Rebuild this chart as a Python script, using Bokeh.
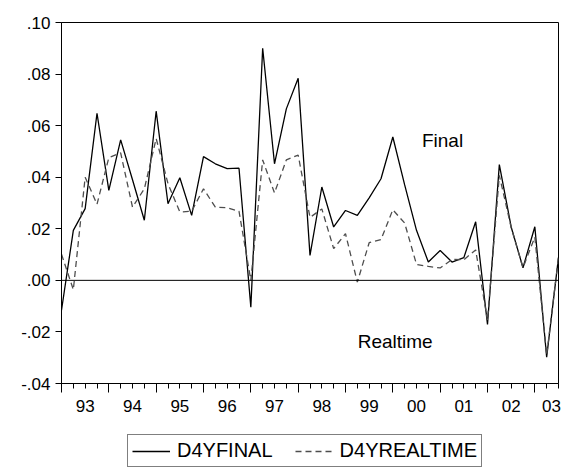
from bokeh.plotting import figure
from bokeh.layouts import column
from bokeh.models import (LinearAxis, FixedTicker, Span, Label, Legend, LegendItem,
                          Range1d, ColumnDataSource, CustomJSTickFormatter)
from bokeh.embed import file_html
from bokeh.resources import INLINE

# Quarterly observations 1993Q1 .. 2003Q3
start_year = 1993
n_obs = 43
d4yfinal = [-0.0116, 0.0194, 0.0278, 0.0648, 0.0349, 0.0545, 0.0390, 0.0233, 0.0656, 0.0297,
            0.0398, 0.0252, 0.0480, 0.0452, 0.0433, 0.0435, -0.0104, 0.0900, 0.0452, 0.0665,
            0.0784, 0.0097, 0.0362, 0.0207, 0.0271, 0.0252, 0.0320, 0.0394, 0.0556, 0.0370,
            0.0194, 0.0071, 0.0116, 0.0071, 0.0088, 0.0227, -0.0171, 0.0449, 0.0207, 0.0049,
            0.0208, -0.0298, 0.0089]
d4yrealtime = [0.0101, -0.0036, 0.0400, 0.0295, 0.0476, 0.0494, 0.0284, 0.0355, 0.0550, 0.0375,
               0.0265, 0.0268, 0.0355, 0.0284, 0.0282, 0.0268, 0.0000, 0.0467, 0.0339, 0.0467,
               0.0486, 0.0244, 0.0277, 0.0123, 0.0181, -0.0007, 0.0146, 0.0158, 0.0274, 0.0222,
               0.0062, 0.0054, 0.0048, 0.0081, 0.0080, 0.0118, -0.0155, 0.0407, 0.0205, 0.0049,
               0.0168, -0.0290, 0.0089]
y_ticks = [-0.04, -0.02, 0.00, 0.02, 0.04, 0.06, 0.08, 0.10]
year_labels = ["93", "94", "95", "96", "97", "98", "99", "00", "01", "02", "03"]
series_names = ["D4YFINAL", "D4YREALTIME"]
annotations = [("Final", 32.2, 0.0543), ("Realtime", 28.2, -0.0236)]

quarter_idx = list(range(n_obs))
year_bounds = [4 * k for k in range(len(year_labels))]
year_mids = [4 * k + 2 for k in range(len(year_labels) - 1)] + [41.4]

src = ColumnDataSource(dict(x=quarter_idx, final=d4yfinal, real=d4yrealtime))

FONT = "Liberation Sans"
FINAL_STYLE = dict(line_color="black", line_width=1.3)
REAL_STYLE = dict(line_color="#4d4d4d", line_width=1.3, line_dash="6 4")

# ---------------- main chart ----------------
p = figure(width=569, height=430, output_backend="svg", toolbar_location=None,
           x_range=Range1d(0, n_obs - 1), y_range=Range1d(-0.04, 0.10),
           x_axis_location=None, y_axis_location=None,
           min_border_left=61, min_border_right=11, min_border_top=22, min_border_bottom=47)
p.xgrid.visible = False
p.ygrid.visible = False
p.outline_line_color = "black"
p.outline_line_width = 1
p.background_fill_color = "white"
p.border_fill_color = "white"

yax = LinearAxis(ticker=FixedTicker(ticks=y_ticks),
                 formatter=CustomJSTickFormatter(code="""
                    const s = tick.toFixed(2);
                    return s.replace('0.', '.');
                 """))
yax.major_tick_out = 6
yax.major_tick_in = 0
yax.minor_tick_line_color = None
yax.major_label_standoff = 5
yax.major_label_text_font = FONT
yax.major_label_text_font_size = "17px"
yax.major_label_text_color = "black"
yax.axis_line_color = "black"
yax.major_tick_line_color = "black"
p.add_layout(yax, "left")

# x axis: long ticks at year boundaries, short ticks each quarter
xax_t = LinearAxis(ticker=FixedTicker(ticks=year_bounds, minor_ticks=quarter_idx),
                   formatter=CustomJSTickFormatter(code="return ' ';"))
xax_t.major_tick_out = 9
xax_t.major_tick_in = 0
xax_t.minor_tick_out = 5
xax_t.minor_tick_in = 0
xax_t.major_label_text_font_size = "1px"
xax_t.major_label_standoff = 0
xax_t.axis_line_color = "black"
xax_t.major_tick_line_color = "black"
xax_t.minor_tick_line_color = "black"
p.add_layout(xax_t, "below")

# x axis labels centred on each year
xax_l = LinearAxis(ticker=FixedTicker(ticks=year_mids),
                   formatter=CustomJSTickFormatter(args=dict(labels=year_labels),
                                                   code="return labels[Math.floor(tick / 4)];"))
xax_l.axis_line_color = None
xax_l.major_tick_line_color = None
xax_l.minor_tick_line_color = None
xax_l.major_tick_out = 0
xax_l.major_tick_in = 0
xax_l.major_label_standoff = 3
xax_l.major_label_text_font = FONT
xax_l.major_label_text_font_size = "17px"
xax_l.major_label_text_color = "black"
p.add_layout(xax_l, "below")

p.add_layout(Span(location=0, dimension="width", line_color="black", line_width=1))

p.line("x", "final", source=src, **FINAL_STYLE)
p.line("x", "real", source=src, **REAL_STYLE)

for txt, xx, yy in annotations:
    p.add_layout(Label(x=xx, y=yy, text=txt, text_font=FONT, text_font_size="19px",
                       text_color="black", text_align="center", text_baseline="middle"))

# ---------------- legend strip ----------------
lg = figure(width=569, height=38, output_backend="svg", toolbar_location=None,
            x_range=Range1d(-200, -100), y_range=Range1d(-200, -100),
            x_axis_location=None, y_axis_location=None,
            min_border_left=0, min_border_right=0, min_border_top=0, min_border_bottom=0)
lg.xgrid.visible = False
lg.ygrid.visible = False
lg.outline_line_color = None
lg.background_fill_color = "white"
lg.border_fill_color = "white"
lr_final = lg.line("x", "final", source=src, **FINAL_STYLE)
lr_real = lg.line("x", "real", source=src, **REAL_STYLE)

legend = Legend(items=[LegendItem(label=series_names[0], renderers=[lr_final]),
                       LegendItem(label=series_names[1], renderers=[lr_real])],
                orientation="horizontal", location=(66, 1))
legend.border_line_color = "black"
legend.border_line_width = 1
legend.background_fill_color = "white"
legend.background_fill_alpha = 1
legend.label_text_font = FONT
legend.label_text_font_size = "20px"
legend.label_text_color = "black"
legend.glyph_width = 38
legend.glyph_height = 20
legend.label_height = 20
legend.label_standoff = 7
legend.spacing = 22
legend.padding = 4
legend.margin = 0
lg.add_layout(legend, "center")

layout = column(p, lg, spacing=0)
open("out.html", "w").write(file_html(layout, INLINE))
